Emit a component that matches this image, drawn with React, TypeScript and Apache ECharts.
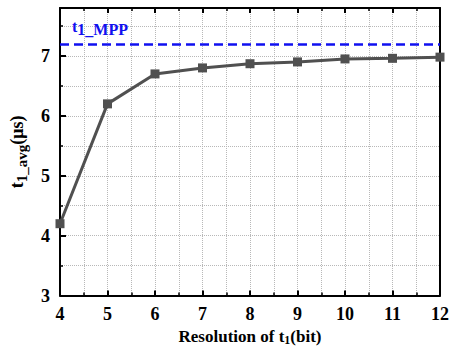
import React, { useEffect, useRef } from "react";
import * as echarts from "echarts";

const resolutionBits = [4, 5, 6, 7, 8, 9, 10, 11, 12];
const t1Avg = [4.2, 6.2, 6.7, 6.8, 6.87, 6.9, 6.95, 6.96, 6.98];
const t1Mpp = 7.2;

const FONT = "Liberation Serif";

export default function App() {
  const ref = useRef<HTMLDivElement>(null);
  useEffect(() => {
    if (!ref.current) return;
    const chart = echarts.init(ref.current, undefined, { renderer: "svg" });
    const gridStyle = { color: "#b8b8b8", width: 1, type: [1, 1] as any };
    const axisLine = { show: true, onZero: false, lineStyle: { color: "#000", width: 2 } };
    const tickRich = { a: { fontFamily: FONT, fontWeight: "bold", fontSize: 18, color: "#000" } };
    chart.setOption({
      animation: false,
      backgroundColor: "#fff",
      textStyle: { fontFamily: FONT },
      grid: { left: 53, top: 8, width: 389, height: 296, containLabel: false },
      xAxis: [
        {
          type: "value",
          min: 4,
          max: 12,
          interval: 1,
          position: "bottom",
          axisLine,
          axisTick: { show: true, inside: true, length: 5, lineStyle: { color: "#000", width: 2 } },
          minorTick: { show: true, splitNumber: 2, length: 3, lineStyle: { color: "#000", width: 1.5 } },
          splitLine: { show: true, lineStyle: gridStyle },
          minorSplitLine: { show: true, lineStyle: gridStyle },
          axisLabel: {
            color: "#000",
            fontFamily: FONT,
            fontWeight: "bold",
            fontSize: 18,
            margin: 9,
            formatter: (v: number) => "{a|" + v + "}",
            rich: tickRich,
          },
          name: "{n|Resolution of t}{s|1}{n|(bit)}",
          nameLocation: "middle",
          nameGap: 27,
          nameTextStyle: {
            fontFamily: FONT,
            rich: {
              n: { fontFamily: FONT, fontWeight: "bold", fontSize: 17, color: "#000" },
              s: { fontFamily: FONT, fontWeight: "bold", fontSize: 12, color: "#000", padding: [8, 0, 0, 0] },
            },
          },
        },
        {
          type: "value",
          min: 4,
          max: 12,
          interval: 1,
          position: "top",
          axisLine,
          axisTick: { show: true, inside: true, length: 5, lineStyle: { color: "#000", width: 2 } },
          minorTick: { show: true, splitNumber: 2, length: 3, lineStyle: { color: "#000", width: 1.5 } },
          splitLine: { show: false },
          axisLabel: { show: false },
        },
      ],
      yAxis: [
        {
          type: "value",
          min: 3,
          max: 7.8,
          interval: 1,
          position: "left",
          axisLine,
          axisTick: { show: true, inside: true, length: 6, lineStyle: { color: "#000", width: 2 } },
          minorTick: { show: true, splitNumber: 2, length: 3, lineStyle: { color: "#000", width: 1.5 } },
          splitLine: { show: true, lineStyle: gridStyle },
          minorSplitLine: { show: true, lineStyle: gridStyle },
          axisLabel: {
            color: "#000",
            fontFamily: FONT,
            fontWeight: "bold",
            fontSize: 18,
            margin: 10,
            formatter: (v: number) => (Number.isInteger(v) ? "{a|" + v + "}" : ""),
            rich: tickRich,
          },
          name: "{n|t}{s|1_avg}{n|(μs)}",
          nameLocation: "middle",
          nameGap: 31,
          nameTextStyle: {
            fontFamily: FONT,
            rich: {
              n: { fontFamily: FONT, fontWeight: "bold", fontSize: 18, color: "#000" },
              s: { fontFamily: FONT, fontWeight: "bold", fontSize: 15, color: "#000", padding: [9, 0, 0, 0] },
            },
          },
        },
        {
          type: "value",
          min: 3,
          max: 7.8,
          interval: 1,
          position: "right",
          axisLine,
          axisTick: { show: false },
          splitLine: { show: false },
          axisLabel: { show: false },
        },
      ],
      series: [
        {
          type: "line",
          xAxisIndex: 0,
          yAxisIndex: 0,
          data: resolutionBits.map((x, i) => [x, t1Avg[i]]),
          symbol: "rect",
          symbolSize: 9,
          lineStyle: { color: "#505050", width: 3 },
          itemStyle: { color: "#505050" },
          clip: false,
          markLine: {
            silent: true,
            symbol: "none",
            data: [{ yAxis: t1Mpp }],
            lineStyle: { color: "#1010f0", width: 2.5, type: [9, 5] },
            label: {
              show: true,
              position: "insideStartTop",
              distance: [12, 6],
              formatter: "{n|t}{s|1_MPP}",
              rich: {
                n: { fontFamily: FONT, fontWeight: "bold", fontSize: 16, color: "#1010f0" },
                s: { fontFamily: FONT, fontWeight: "bold", fontSize: 16, color: "#1010f0", padding: [7, 0, 0, 0] },
              },
            },
          },
        },
      ],
    });
    return () => chart.dispose();
  }, []);
  return <div ref={ref} style={{ width: 452, height: 351, position: "absolute", left: 0, top: 0 }} />;
}
